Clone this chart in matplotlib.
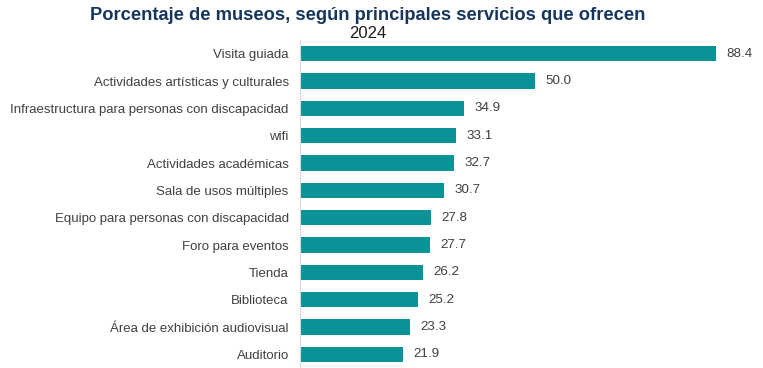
import matplotlib.pyplot as plt

plt.rcParams['font.family'] = ['Liberation Sans', 'DejaVu Sans']

servicios = [
    'Visita guiada',
    'Actividades artísticas y culturales',
    'Infraestructura para personas con discapacidad',
    'wifi',
    'Actividades académicas',
    'Sala de usos múltiples',
    'Equipo para personas con discapacidad',
    'Foro para eventos',
    'Tienda',
    'Biblioteca',
    'Área de exhibición audiovisual',
    'Auditorio',
]
porcentajes = [88.4, 50.0, 34.9, 33.1, 32.7, 30.7, 27.8, 27.7, 26.2, 25.2, 23.3, 21.9]

fig = plt.figure(figsize=(7.63, 3.68), dpi=100)
ax = fig.add_axes([0.393, 0.0, 0.607, 0.891])

pos = list(range(len(servicios)))
ax.barh(pos, porcentajes, height=0.56, color='#0A9396')
for y, v in zip(pos, porcentajes):
    ax.text(v + 2.2, y, f'{v:.1f}', va='center', ha='left', fontsize=9.6, color='#404040')

ax.set_ylim(len(servicios) - 0.5, -0.5)
ax.set_xlim(0, 98.4)
ax.set_yticks(pos)
ax.set_yticklabels(servicios, fontsize=9.5, color='#404040')
ax.tick_params(axis='y', length=0, pad=8)
ax.set_xticks([])
for s in ['top', 'right', 'bottom']:
    ax.spines[s].set_visible(False)
ax.spines['left'].set_color('#D9D9D9')

fig.text(0.482, 0.958, 'Porcentaje de museos, según principales servicios que ofrecen',
         ha='center', va='center', fontsize=13.2, fontweight='bold', color='#17365D')
fig.text(0.482, 0.908, '2024', ha='center', va='center', fontsize=12, color='#1a1a1a')

fig.savefig('out.png', dpi=100, facecolor='white')
